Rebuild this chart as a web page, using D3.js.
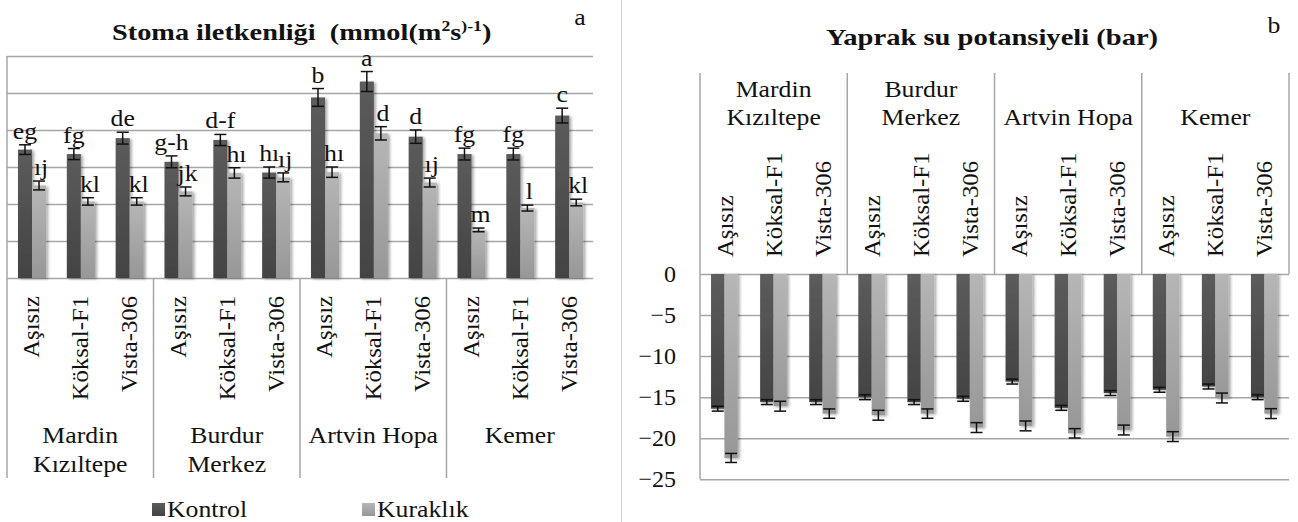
<!doctype html>
<html lang="tr">
  <head>
    <meta charset="UTF-8" />
    <title>Stoma iletkenliği ve yaprak su potansiyeli</title>
    <style>
      body {
        margin: 0;
        background: #fff;
        overflow: hidden;
      }
      svg text {
        font-family: "Liberation Serif", "DejaVu Serif", "Times New Roman", serif;
      }
      .grid line {
        stroke: #a6a6a6;
        stroke-width: 1.5px;
      }
      .frame {
        stroke: #a6a6a6;
        stroke-width: 1.5px;
      }
      .err {
        stroke: #111;
        stroke-width: 1.5px;
      }
    </style>
  </head>
  <body>
    <script src="https://cdn.jsdelivr.net/npm/d3@7"></script>
    <script>
      // --- data ---
      const regions = ["Mardin Kızıltepe", "Burdur Merkez", "Artvin Hopa", "Kemer"];
      const regionLines = [["Mardin", "Kızıltepe"], ["Burdur", "Merkez"], ["Artvin Hopa"], ["Kemer"]];
      const rootstocks = ["Aşısız", "Köksal-F1", "Vista-306"];
      const seriesNames = ["Kontrol", "Kuraklık"];

      // a) Stoma iletkenliği
      const stomaKontrol = [347, 335, 378, 314, 373, 285, 488, 531, 382, 335, 335, 439];
      const stomaKontrolErr = [13, 15, 16, 16, 15, 15, 24, 27, 18, 16, 16, 20];
      const stomaKuraklik = [250, 207, 207, 234, 284, 272, 286, 391, 258, 130, 189, 204];
      const stomaKuraklikErr = [12, 10, 10, 12, 14, 12, 14, 18, 12, 5, 8, 9];
      const stomaKontrolLetters = ["eg", "fg", "de", "g-h", "d-f", "hı", "b", "a", "d", "fg", "fg", "c"];
      const stomaKuraklikLetters = ["ıj", "kl", "kl", "jk", "hı", "ıj", "hı", "d", "ıj", "m", "l", "kl"];
      const stomaTicks = [0, 100, 200, 300, 400, 500, 600];

      // b) Yaprak su potansiyeli
      const potKontrol = [-16.4, -15.6, -15.6, -15.0, -15.6, -15.2, -13.1, -16.3, -14.5, -14.1, -13.7, -15.0];
      const potKontrolErr = [0.3, 0.3, 0.3, 0.3, 0.3, 0.3, 0.3, 0.3, 0.3, 0.3, 0.3, 0.3];
      const potKuraklik = [-22.4, -16.1, -17.0, -17.2, -17.0, -18.7, -18.5, -19.4, -19.0, -19.8, -15.1, -17.0];
      const potKuraklikErr = [0.55, 0.6, 0.57, 0.6, 0.57, 0.6, 0.6, 0.57, 0.6, 0.6, 0.6, 0.6];
      const potTicks = [0, -5, -10, -15, -20, -25];

      const W = 1298, H = 522;
      const SX = 1.12; // the original text is a bit wider than Times
      const SERIF = "'Liberation Serif', 'DejaVu Serif', serif";

      const svg = d3.select("body").append("svg").attr("width", W).attr("height", H);

      const defs = svg.append("defs");
      function grad(id, c1, c2) {
        const g = defs.append("linearGradient").attr("id", id)
          .attr("x1", 0).attr("y1", 0).attr("x2", 0).attr("y2", 1);
        g.append("stop").attr("offset", "0%").attr("stop-color", c1);
        g.append("stop").attr("offset", "100%").attr("stop-color", c2);
      }
      grad("gDark", "#5c5c5c", "#434343");
      grad("gLight", "#b6b6b6", "#979797");
      defs.append("filter").attr("id", "shadow").attr("x", "-30%").attr("y", "-10%")
        .attr("width", "160%").attr("height", "120%")
        .append("feDropShadow").attr("dx", 2).attr("dy", 1).attr("stdDeviation", 1.4)
        .attr("flood-color", "#000").attr("flood-opacity", 0.35);
      const fills = ["url(#gDark)", "url(#gLight)"];

      function htext(g, x, y, str, size, anchor, weight, sx) {
        return g.append("text")
          .attr("transform", `translate(${x},${y}) scale(${sx || SX},1)`)
          .attr("text-anchor", anchor || "middle")
          .attr("font-family", SERIF)
          .attr("font-size", size)
          .attr("font-weight", weight || "normal")
          .attr("fill", "#111")
          .text(str);
      }

      const combos = regions.flatMap((r) => rootstocks.map((c) => r + "|" + c));

      // ================= chart a =================
      const A = { left: 7, right: 593, top: 56, base: 278, labelBottom: 478 };
      const gA = svg.append("g");
      const xA = d3.scaleBand().domain(combos).range([A.left, A.right]);
      const subA = d3.scaleBand().domain(seriesNames)
        .range([xA.bandwidth() * 0.225, xA.bandwidth() * 0.8]);
      const yA = d3.scaleLinear().domain([0, 600]).range([A.base, A.top]);

      gA.append("g").attr("class", "grid")
        .attr("transform", `translate(${A.left},0)`)
        .call(d3.axisLeft(yA).tickValues(stomaTicks).tickSize(-(A.right - A.left)).tickFormat(""))
        .call((g) => g.select(".domain").remove());

      gA.append("line").attr("class", "frame")
        .attr("x1", A.left).attr("x2", A.left).attr("y1", A.top).attr("y2", A.labelBottom);
      regions.forEach((r, i) => {
        if (i === 0) return;
        const x = xA(r + "|" + rootstocks[0]);
        gA.append("line").attr("class", "frame")
          .attr("x1", x).attr("x2", x).attr("y1", A.base).attr("y2", A.labelBottom);
      });

      const stomaSeries = [
        { vals: stomaKontrol, errs: stomaKontrolErr, letters: stomaKontrolLetters, dx: 0 },
        { vals: stomaKuraklik, errs: stomaKuraklikErr, letters: stomaKuraklikLetters, dx: 2 },
      ];
      stomaSeries.forEach((s, si) => {
        gA.append("g").selectAll("rect").data(combos).join("rect")
          .attr("x", (d) => xA(d) + subA(seriesNames[si]))
          .attr("width", subA.bandwidth())
          .attr("y", (d, i) => yA(s.vals[i]))
          .attr("height", (d, i) => yA(0) - yA(s.vals[i]))
          .attr("fill", fills[si])
          .attr("filter", "url(#shadow)");
      });
      stomaSeries.forEach((s, si) => {
        combos.forEach((d, i) => {
          const cx = xA(d) + subA(seriesNames[si]) + subA.bandwidth() / 2;
          const y1 = yA(s.vals[i] + s.errs[i]), y2 = yA(s.vals[i] - s.errs[i]);
          gA.append("line").attr("class", "err").attr("x1", cx).attr("x2", cx).attr("y1", y1).attr("y2", y2);
          gA.append("line").attr("class", "err").attr("x1", cx - 6).attr("x2", cx + 6).attr("y1", y1).attr("y2", y1);
          gA.append("line").attr("class", "err").attr("x1", cx - 6).attr("x2", cx + 6).attr("y1", y2).attr("y2", y2);
          htext(gA, cx + s.dx, y1 - 6, s.letters[i], 23);
        });
      });

      // rotated rootstock labels
      combos.forEach((d, i) => {
        const cx = xA(d) + xA.bandwidth() / 2 + 8;
        gA.append("text")
          .attr("transform", `translate(${cx},296) rotate(-90) scale(1.03,1)`)
          .attr("text-anchor", "end")
          .attr("font-family", SERIF)
          .attr("font-size", 24)
          .attr("fill", "#111")
          .text(rootstocks[i % 3]);
      });
      regionLines.forEach((lines, ri) => {
        const cx = xA(regions[ri] + "|" + rootstocks[1]) + xA.bandwidth() / 2;
        lines.forEach((ln, li) => htext(gA, cx, 443 + li * 29, ln, 23));
      });

      // title a
      const tA = htext(gA, 112, 39.5, "", 24, "start", "bold", 1.18);
      tA.append("tspan").text("Stoma iletkenliği\u00a0\u00a0(mmol(m");
      tA.append("tspan").attr("font-size", 15).attr("dy", -9).text("2");
      tA.append("tspan").attr("dy", 9).text("s");
      tA.append("tspan").attr("font-size", 15).attr("dy", -9).text(")-1");
      tA.append("tspan").attr("dy", 9).text(")");
      htext(gA, 580, 25, "a", 23);

      // legend
      const legX = [152, 362];
      seriesNames.forEach((n, i) => {
        gA.append("rect").attr("x", legX[i]).attr("y", 503).attr("width", 13).attr("height", 13)
          .attr("fill", fills[i]);
        htext(gA, legX[i] + 15, 517, n, 23, "start");
      });

      // divider between panels
      svg.append("line").attr("x1", 621.5).attr("x2", 621.5).attr("y1", 0).attr("y2", H)
        .attr("stroke", "#d0d0d0").attr("stroke-width", 1);

      // ================= chart b =================
      const B = { left: 700, right: 1289, top: 73, zero: 274 };
      const gB = svg.append("g");
      const xB = d3.scaleBand().domain(combos).range([B.left, B.right]);
      const subB = d3.scaleBand().domain(seriesNames)
        .range([xB.bandwidth() * 0.225, xB.bandwidth() * 0.77]);
      const yB = d3.scaleLinear().domain([-25, 0]).range([479.3, B.zero]);

      const axB = gB.append("g").attr("class", "grid")
        .attr("transform", `translate(${B.left},0)`)
        .call(d3.axisLeft(yB).tickValues(potTicks).tickSize(-(B.right - B.left)).tickPadding(24))
        .call((g) => g.select(".domain").remove());
      axB.attr("font-family", SERIF).attr("font-size", 24);
      axB.selectAll("text")
        .attr("fill", "#111")
        .attr("font-family", SERIF)
        .attr("font-size", 24)
        .attr("dy", "0.32em");

      gB.append("line").attr("class", "frame")
        .attr("x1", B.left).attr("x2", B.left).attr("y1", B.top).attr("y2", yB(-25));
      regions.forEach((r, i) => {
        if (i === 0) return;
        const x = xB(r + "|" + rootstocks[0]);
        gB.append("line").attr("class", "frame")
          .attr("x1", x).attr("x2", x).attr("y1", B.top).attr("y2", B.zero);
      });
      gB.append("line").attr("class", "frame")
        .attr("x1", B.right).attr("x2", B.right).attr("y1", B.top).attr("y2", B.zero);

      const potSeries = [
        { vals: potKontrol, errs: potKontrolErr },
        { vals: potKuraklik, errs: potKuraklikErr },
      ];
      potSeries.forEach((s, si) => {
        gB.append("g").selectAll("rect").data(combos).join("rect")
          .attr("x", (d) => xB(d) + subB(seriesNames[si]))
          .attr("width", subB.bandwidth())
          .attr("y", yB(0))
          .attr("height", (d, i) => yB(s.vals[i]) - yB(0))
          .attr("fill", fills[si])
          .attr("filter", "url(#shadow)");
      });
      potSeries.forEach((s, si) => {
        combos.forEach((d, i) => {
          const cx = xB(d) + subB(seriesNames[si]) + subB.bandwidth() / 2;
          const y1 = yB(s.vals[i] + s.errs[i]), y2 = yB(s.vals[i] - s.errs[i]);
          gB.append("line").attr("class", "err").attr("x1", cx).attr("x2", cx).attr("y1", y1).attr("y2", y2);
          gB.append("line").attr("class", "err").attr("x1", cx - 6).attr("x2", cx + 6).attr("y1", y1).attr("y2", y1);
          gB.append("line").attr("class", "err").attr("x1", cx - 6).attr("x2", cx + 6).attr("y1", y2).attr("y2", y2);
        });
      });

      combos.forEach((d, i) => {
        const cx = xB(d) + xB.bandwidth() / 2 + 8;
        gB.append("text")
          .attr("transform", `translate(${cx},257) rotate(-90) scale(1.03,1)`)
          .attr("text-anchor", "start")
          .attr("font-family", SERIF)
          .attr("font-size", 24)
          .attr("fill", "#111")
          .text(rootstocks[i % 3]);
      });
      regionLines.forEach((lines, ri) => {
        const cx = xB(regions[ri] + "|" + rootstocks[1]) + xB.bandwidth() / 2;
        if (lines.length === 2) lines.forEach((ln, li) => htext(gB, cx, 97 + li * 28, ln, 23));
        else htext(gB, cx, 125, lines[0], 23);
      });

      htext(gB, 992, 45, "Yaprak su potansiyeli (bar)", 24, "middle", "bold", 1.19);
      htext(gB, 1274, 33, "b", 23);
    </script>
  </body>
</html>
